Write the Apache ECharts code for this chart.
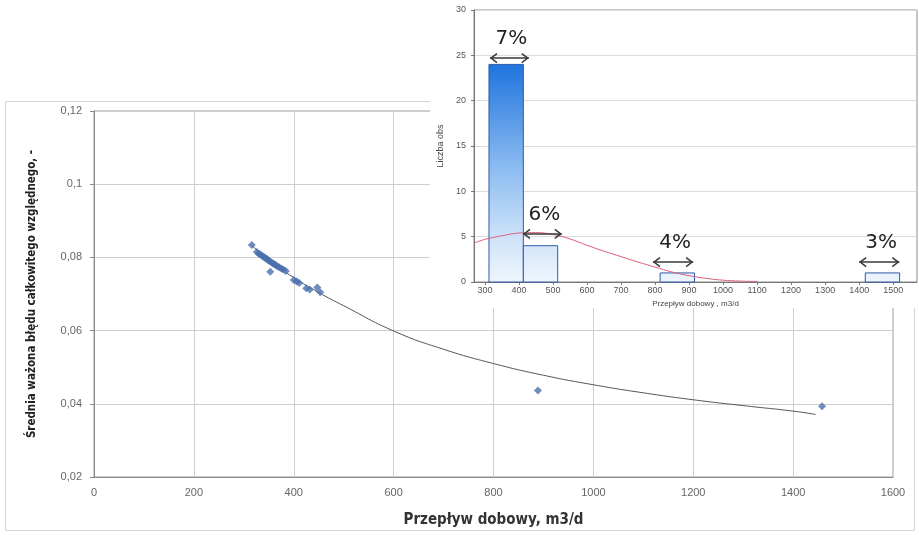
<!DOCTYPE html>
<html>
<head>
<meta charset="utf-8">
<script src="https://cdn.jsdelivr.net/npm/echarts@6/dist/echarts.min.js"></script>
<style>
  html, body { margin: 0; padding: 0; background: #fff; }
  #main { position: absolute; left: 0; top: 0; width: 919px; height: 537px; }
  #inset { position: absolute; left: 430px; top: 0; width: 489px; height: 308px; background: #fff; }
</style>
</head>
<body>
<div id="main"></div>
<div id="inset"></div>
<script>
// ---------- Main scatter: daily flow vs weighted mean relative error ----------
const flowValues = [316, 326, 330, 333, 336, 339, 342, 344, 347, 349, 351, 353, 355, 358, 361, 364, 367, 371, 375, 379, 384, 400, 406, 411,
                    425, 432, 447, 453, 889, 1458];
const errorValues = [0.0834, 0.0815, 0.0810, 0.0808, 0.0805, 0.0802, 0.0800, 0.0797, 0.0795, 0.0792, 0.0790, 0.0761, 0.0787, 0.0784, 0.0781, 0.0779, 0.0776, 0.0773, 0.0770, 0.0767, 0.0763, 0.0738, 0.0734, 0.0730,
                     0.0716, 0.0712, 0.0718, 0.0705, 0.0436, 0.0393];
const trendFlow = [316, 350, 400, 450, 500, 600, 700, 800, 900, 1000, 1100, 1200, 1300, 1400, 1445];
const trendError = [0.0833, 0.0793, 0.0745, 0.0704, 0.0668, 0.0599, 0.0549, 0.0510, 0.0478, 0.0452, 0.0430, 0.0411, 0.0395, 0.0380, 0.0371];
const mainXTitle = 'Przepływ dobowy, m3/d';
const mainYTitle = 'Średnia ważona błędu całkowitego względnego, -';

// ---------- Inset histogram ----------
const binStart = [312, 413, 815, 1418];
const binEnd = [413, 514, 916, 1519];
const binCounts = [24, 4, 1, 1];
const normalX = [268, 300, 350, 400, 450, 500, 550, 600, 650, 700, 750, 800, 850, 900, 950, 1000, 1050, 1100];
const normalY = [4.3, 4.7, 5.1, 5.4, 5.45, 5.25, 4.75, 4.05, 3.4, 2.8, 2.2, 1.65, 1.1, 0.7, 0.4, 0.2, 0.1, 0.05];
const arrowFrom = [315, 412, 794, 1400];
const arrowTo = [429, 526, 912, 1518];
const arrowLevel = [24.7, 5.3, 2.2, 2.2];
const arrowLabels = ['7%', '6%', '4%', '3%'];
const insetXTicks = [300, 400, 500, 600, 700, 800, 900, 1000, 1100, 1200, 1300, 1400, 1500];
const insetXTitle = 'Przepływ dobowy , m3/d';
const insetYTitle = 'Liczba obs';

const fmtComma = v => String(+(+v).toFixed(2)).replace('.', ',');
const fmtPlain = v => String(Math.round(v));

const mainChart = echarts.init(document.getElementById('main'), null, { renderer: 'canvas' });
mainChart.setOption({
  animation: false,
  backgroundColor: '#fff',
  graphic: [{
    type: 'rect',
    shape: { x: 5.5, y: 101.5, width: 909, height: 429 },
    style: { fill: 'none', stroke: '#d4d4d4', lineWidth: 1 },
    silent: true
  }],
  grid: { left: 94, right: 26, top: 111, bottom: 60, show: true, borderColor: '#9a9a9a', borderWidth: 1, outerBoundsMode: 'none', containLabel: false },
  xAxis: {
    type: 'value', min: 0, max: 1600, interval: 200,
    name: mainXTitle, nameLocation: 'middle', nameGap: 36,
    nameTextStyle: { fontFamily: 'DejaVu Sans Condensed, sans-serif', fontWeight: 'bold', fontSize: 15, color: '#333' },
    axisLine: { show: true, lineStyle: { color: '#8a8a8a' } },
    axisTick: { show: false },
    axisLabel: { color: '#666', fontSize: 11, margin: 10, formatter: fmtPlain, fontFamily: 'Liberation Sans, sans-serif' },
    splitLine: { show: true, lineStyle: { color: '#cfcfcf', width: 1 } }
  },
  yAxis: {
    type: 'value', min: 0.02, max: 0.12, interval: 0.02,
    name: mainYTitle, nameLocation: 'middle', nameGap: 56,
    nameTextStyle: { fontFamily: 'DejaVu Sans Condensed, sans-serif', fontWeight: 'bold', fontSize: 11.5, color: '#222' },
    axisLine: { show: true, lineStyle: { color: '#8a8a8a' } },
    axisTick: { show: true, length: 4, lineStyle: { color: '#8a8a8a' } },
    axisLabel: { color: '#666', fontSize: 11, margin: 12, formatter: fmtComma, fontFamily: 'Liberation Sans, sans-serif' },
    splitLine: { show: true, lineStyle: { color: '#cfcfcf', width: 1 } }
  },
  series: [
    {
      type: 'line', data: trendFlow.map((x, i) => [x, trendError[i]]),
      smooth: true, showSymbol: false, symbol: 'none',
      lineStyle: { color: '#555', width: 1 }, z: 2
    },
    {
      type: 'scatter', data: flowValues.map((x, i) => [x, errorValues[i]]),
      symbol: 'diamond', symbolSize: [8, 8],
      itemStyle: { color: '#4a6fae' }, z: 3
    }
  ]
});

const inset = echarts.init(document.getElementById('inset'), null, { renderer: 'canvas' });
inset.setOption({
  animation: false,
  backgroundColor: '#fff',
  grid: { left: 44, right: 2, top: 10, bottom: 26, show: true, borderColor: '#8c8c8c', borderWidth: 1, outerBoundsMode: 'none', containLabel: false },
  xAxis: {
    type: 'value', min: 268, max: 1570,
    name: insetXTitle, nameLocation: 'middle', nameGap: 15,
    nameTextStyle: { fontSize: 8, color: '#444', fontFamily: 'Liberation Sans, sans-serif' },
    axisLine: { show: true, lineStyle: { color: '#777' } },
    axisTick: { show: true, customValues: insetXTicks, length: 3, lineStyle: { color: '#777' } },
    axisLabel: { show: true, customValues: insetXTicks, formatter: fmtPlain, fontSize: 9, color: '#555', margin: 4, fontFamily: 'Liberation Sans, sans-serif' },
    splitLine: { show: false }
  },
  yAxis: {
    type: 'value', min: 0, max: 30, interval: 5,
    name: insetYTitle, nameLocation: 'middle', nameGap: 22,
    nameTextStyle: { fontSize: 9, color: '#444', fontFamily: 'Liberation Sans, sans-serif' },
    axisLine: { show: true, lineStyle: { color: '#777' } },
    axisTick: { show: true, length: 3, lineStyle: { color: '#777' } },
    axisLabel: { fontSize: 9, color: '#555', margin: 8, fontFamily: 'Liberation Sans, sans-serif' },
    splitLine: { show: true, lineStyle: { color: '#dcdcdc' } }
  },
  series: [
    {
      type: 'custom',
      data: binStart.map((s, i) => [s, binEnd[i], binCounts[i]]),
      renderItem: function (params, api) {
        const tl = api.coord([api.value(0), api.value(2)]);
        const br = api.coord([api.value(1), 0]);
        const gTop = api.coord([0, 24])[1];
        const gBot = api.coord([0, 0])[1];
        const fill = new echarts.graphic.LinearGradient(0, gTop, 0, gBot, [
          { offset: 0, color: '#1f74de' },
          { offset: 0.45, color: '#86b8f0' },
          { offset: 0.8, color: '#cfe3f9' },
          { offset: 1, color: '#eef5fd' }
        ], true);
        return {
          type: 'rect',
          shape: { x: tl[0], y: tl[1], width: br[0] - tl[0], height: br[1] - tl[1] },
          style: { fill: fill, stroke: '#2f5aa8', lineWidth: 1 }
        };
      },
      z: 2
    },
    {
      type: 'line', data: normalX.map((x, i) => [x, normalY[i]]),
      smooth: 0.4, symbol: 'none', lineStyle: { color: '#d9607a', width: 1 }, z: 3
    },
    {
      type: 'custom',
      data: arrowFrom.map((f, i) => [f, arrowTo[i], arrowLevel[i]]),
      renderItem: function (params, api) {
        const a = api.coord([api.value(0), api.value(2)]);
        const b = api.coord([api.value(1), api.value(2)]);
        const y = a[1];
        const stroke = { stroke: '#3a3a3a', lineWidth: 1.5, fill: 'none' };
        return {
          type: 'group',
          children: [
            { type: 'line', shape: { x1: a[0], y1: y, x2: b[0], y2: y }, style: stroke },
            { type: 'polyline', shape: { points: [[a[0] + 7, y - 4.5], [a[0] + 1, y], [a[0] + 7, y + 4.5]] }, style: stroke },
            { type: 'polyline', shape: { points: [[b[0] - 7, y - 4.5], [b[0] - 1, y], [b[0] - 7, y + 4.5]] }, style: stroke },
            { type: 'text', style: { text: arrowLabels[params.dataIndex], x: (a[0] + b[0]) / 2 + 2, y: y - 9, align: 'center', verticalAlign: 'bottom', fontSize: 20, fill: '#222', fontFamily: 'DejaVu Sans, sans-serif' } }
          ]
        };
      },
      z: 4
    }
  ]
});
</script>
</body>
</html>
